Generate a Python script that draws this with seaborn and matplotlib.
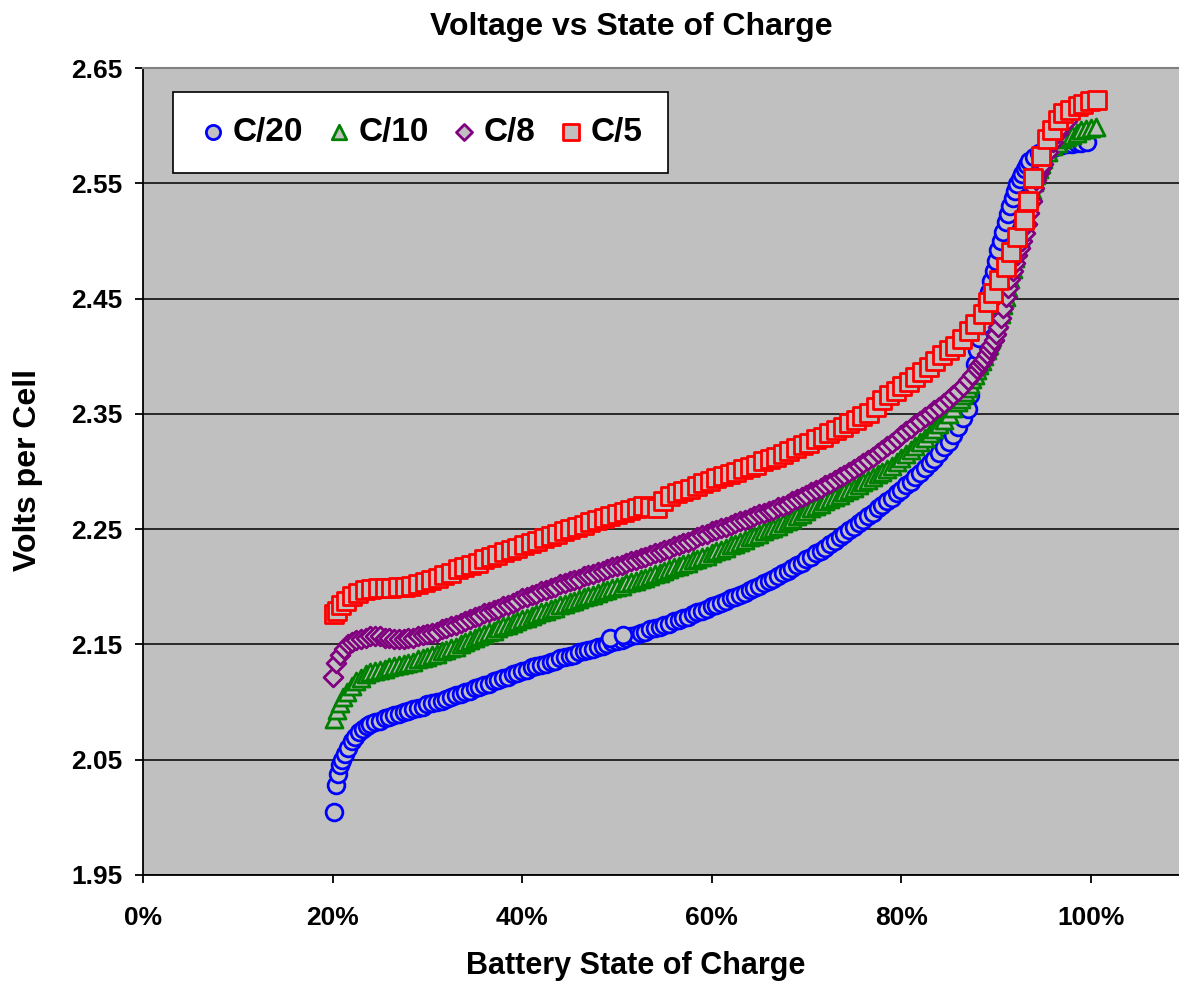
import matplotlib
matplotlib.use("Agg")
import matplotlib.pyplot as plt
from matplotlib.ticker import PercentFormatter, FormatStrFormatter
import numpy as np
import pandas as pd
import seaborn as sns

# ---- data (SOC in %, volts per cell) ----
# C/20 (blue circles)
c20_soc_head = [20.2, 20.4, 20.6, 20.8, 21.0, 21.3, 21.6, 22.0, 22.4, 22.8, 23.2, 23.6]
c20_v_head = [2.005, 2.028, 2.038, 2.045, 2.050, 2.055, 2.060, 2.066, 2.070, 2.074, 2.077, 2.079]
c20_body_start, c20_body_step = 24.0, 0.5
c20_v_body = [
    2.081, 2.083, 2.084, 2.086, 2.087, 2.089, 2.090, 2.091, 2.092, 2.094,
    2.095, 2.096, 2.098, 2.099, 2.100, 2.101, 2.103, 2.104, 2.106, 2.107,
    2.109, 2.110, 2.112, 2.113, 2.115, 2.116, 2.118, 2.119, 2.121, 2.122,
    2.124, 2.125, 2.127, 2.128, 2.130, 2.131, 2.132, 2.133, 2.135, 2.136,
    2.138, 2.139, 2.140, 2.141, 2.143, 2.144, 2.145, 2.146, 2.148, 2.149,
    2.150, 2.152, 2.153, 2.154, 2.156, 2.157, 2.158, 2.160, 2.161, 2.163,
    2.164, 2.165, 2.167, 2.168, 2.170, 2.171, 2.173, 2.174, 2.176, 2.178,
    2.179, 2.181, 2.183, 2.184, 2.186, 2.188, 2.190, 2.191, 2.193, 2.195,
    2.197, 2.199, 2.201, 2.203, 2.205, 2.207, 2.209, 2.212, 2.214, 2.216,
    2.219, 2.221, 2.224, 2.226, 2.229, 2.231, 2.234, 2.237, 2.240, 2.243,
    2.246, 2.249, 2.252, 2.255, 2.258, 2.261, 2.264, 2.268, 2.271, 2.274,
    2.277, 2.281, 2.284, 2.288, 2.291, 2.295, 2.299, 2.303, 2.307, 2.311,
    2.316, 2.321, 2.326, 2.332, 2.339, 2.346]
c20_knee_start, c20_knee_step = 87.0, 0.25
c20_v_knee = [
    2.354, 2.366, 2.380, 2.393, 2.405, 2.416, 2.427, 2.437, 2.447, 2.456,
    2.465, 2.474, 2.483, 2.492, 2.500, 2.508, 2.516, 2.523, 2.530, 2.537,
    2.543, 2.549, 2.554, 2.558, 2.562, 2.566, 2.569]
c20_soc_top = [94.0, 94.5, 95.0, 95.5, 96.0, 96.5, 97.0, 97.5, 98.0, 98.5, 99.0, 99.6,
               49.3, 50.6]
c20_v_top = [2.573, 2.576, 2.578, 2.580, 2.581, 2.582, 2.583, 2.584, 2.584, 2.585, 2.585, 2.586,
             2.156, 2.158]

# C/10 (green triangles)
c10_soc_head = [20.2, 20.5, 20.8, 21.1, 21.5, 22.0, 22.5, 23.0, 23.5]
c10_v_head = [2.085, 2.093, 2.099, 2.104, 2.109, 2.114, 2.118, 2.121, 2.124]
c10_body_start, c10_body_step = 24.0, 0.5
c10_v_body = [
    2.126, 2.127, 2.128, 2.129, 2.130, 2.131, 2.132, 2.133, 2.134, 2.135,
    2.137, 2.138, 2.139, 2.141, 2.142, 2.144, 2.145, 2.147, 2.148, 2.150,
    2.152, 2.154, 2.156, 2.157, 2.159, 2.161, 2.162, 2.164, 2.166, 2.167,
    2.169, 2.170, 2.172, 2.173, 2.175, 2.176, 2.178, 2.179, 2.181, 2.182,
    2.184, 2.185, 2.187, 2.188, 2.189, 2.191, 2.192, 2.193, 2.195, 2.196,
    2.197, 2.199, 2.200, 2.201, 2.203, 2.204, 2.205, 2.207, 2.208, 2.209,
    2.211, 2.212, 2.214, 2.215, 2.217, 2.218, 2.220, 2.221, 2.223, 2.224,
    2.226, 2.227, 2.229, 2.231, 2.232, 2.234, 2.236, 2.237, 2.239, 2.241,
    2.243, 2.244, 2.246, 2.248, 2.250, 2.251, 2.253, 2.255, 2.257, 2.259,
    2.261, 2.263, 2.266, 2.268, 2.270, 2.272, 2.274, 2.276, 2.278, 2.280,
    2.282, 2.284, 2.286, 2.288, 2.291, 2.293, 2.295, 2.298, 2.300, 2.302,
    2.305, 2.308, 2.312, 2.315, 2.319, 2.322, 2.326, 2.329, 2.333, 2.337,
    2.341, 2.345, 2.350, 2.355, 2.360]
c10_knee_start, c10_knee_step = 86.25, 0.25
c10_v_knee = [
    2.363, 2.366, 2.369, 2.372, 2.376, 2.380, 2.384, 2.388, 2.392, 2.396,
    2.400, 2.405, 2.410, 2.415, 2.420, 2.425, 2.431, 2.437, 2.444, 2.451,
    2.459, 2.467, 2.476, 2.485, 2.494, 2.503, 2.512, 2.521, 2.529, 2.537,
    2.544, 2.551, 2.557, 2.562, 2.567, 2.571]
c10_soc_top = [95.5, 96.0, 96.5, 97.0, 97.5, 98.0, 98.5, 99.0, 99.5, 100.0, 100.5]
c10_v_top = [2.577, 2.582, 2.585, 2.588, 2.590, 2.592, 2.594, 2.596, 2.597, 2.598, 2.599]

# C/8 (purple diamonds)
c8_soc_head = [20.0, 20.4, 20.8, 21.2, 21.6, 22.0, 22.5]
c8_v_head = [2.122, 2.134, 2.141, 2.146, 2.150, 2.152, 2.154]
c8_body_start, c8_body_step = 23.0, 0.5
c8_v_body = [
    2.155, 2.156, 2.157, 2.157, 2.157, 2.156, 2.156, 2.155, 2.155, 2.155,
    2.156, 2.156, 2.157, 2.158, 2.159, 2.160, 2.161, 2.163, 2.164, 2.166,
    2.167, 2.169, 2.170, 2.172, 2.174, 2.175, 2.177, 2.178, 2.180, 2.181,
    2.183, 2.184, 2.186, 2.188, 2.190, 2.191, 2.193, 2.194, 2.196, 2.197,
    2.199, 2.200, 2.202, 2.203, 2.205, 2.206, 2.207, 2.209, 2.210, 2.211,
    2.213, 2.214, 2.215, 2.217, 2.218, 2.219, 2.221, 2.222, 2.223, 2.225,
    2.226, 2.228, 2.229, 2.230, 2.232, 2.233, 2.235, 2.236, 2.238, 2.239,
    2.241, 2.243, 2.245, 2.246, 2.248, 2.249, 2.251, 2.252, 2.254, 2.255,
    2.257, 2.258, 2.260, 2.261, 2.263, 2.264, 2.266, 2.267, 2.269, 2.270,
    2.272, 2.274, 2.276, 2.278, 2.280, 2.282, 2.284, 2.286, 2.288, 2.290,
    2.293, 2.295, 2.297, 2.300, 2.302, 2.305, 2.307, 2.310, 2.313, 2.316,
    2.319, 2.322, 2.325, 2.328, 2.332, 2.335, 2.338, 2.341, 2.344, 2.347,
    2.350, 2.353, 2.356, 2.359, 2.363, 2.366, 2.370, 2.374, 2.379, 2.384,
    2.389]
c8_knee_start, c8_knee_step = 88.25, 0.25
c8_v_knee = [
    2.392, 2.395, 2.398, 2.402, 2.406, 2.410, 2.414, 2.419, 2.425, 2.433,
    2.442, 2.451, 2.459, 2.467, 2.474, 2.481, 2.488, 2.494, 2.500, 2.507,
    2.515, 2.524, 2.535, 2.546, 2.553, 2.559, 2.563, 2.567]
c8_soc_top = [95.5, 96.0, 96.5, 97.0, 97.5]
c8_v_top = [2.577, 2.586, 2.594, 2.600, 2.604]

# C/5 (red squares)
c5_soc_head = [20.1, 20.5, 20.9, 21.4, 22.1, 22.7, 23.4]
c5_v_head = [2.176, 2.179, 2.184, 2.188, 2.192, 2.195, 2.197]
c5_body_start, c5_body_step = 24.1, 0.7
c5_v_body = [
    2.198, 2.199, 2.199, 2.199, 2.200, 2.200, 2.201, 2.202, 2.204, 2.206,
    2.208, 2.210, 2.212, 2.215, 2.217, 2.219, 2.221, 2.224, 2.226, 2.228,
    2.230, 2.232, 2.234, 2.236, 2.238, 2.240, 2.242, 2.244, 2.246, 2.248,
    2.250, 2.252, 2.254, 2.256, 2.258, 2.260, 2.261, 2.263, 2.265, 2.267,
    2.268, 2.270, 2.269, 2.268, 2.274, 2.279, 2.281, 2.283, 2.285, 2.287,
    2.290, 2.292, 2.294, 2.296, 2.298, 2.300, 2.302, 2.304, 2.306, 2.309,
    2.311, 2.313, 2.315, 2.318, 2.320, 2.323, 2.325, 2.328, 2.330, 2.333,
    2.336, 2.339, 2.342, 2.345, 2.348, 2.351, 2.356, 2.362, 2.366, 2.370,
    2.374, 2.378, 2.382, 2.386, 2.391, 2.396, 2.401, 2.405, 2.409, 2.415]
c5_soc_top = [87.1, 87.8, 88.6, 89.1, 89.7, 90.3, 91.0, 91.6, 92.2, 92.9, 93.4,
              93.9, 94.7, 95.4, 95.9, 96.5, 97.1, 97.8, 98.6, 99.2, 99.9, 100.7]
c5_v_top = [2.422, 2.428, 2.437, 2.447, 2.455, 2.466, 2.477, 2.490, 2.503, 2.518, 2.535,
            2.555, 2.574, 2.588, 2.596, 2.605, 2.611, 2.614, 2.617, 2.619, 2.621, 2.622]


def build(name, soc_head, v_head, segments, soc_top, v_top):
    """Stack the pieces of one charge-rate series into a tidy frame"""
    soc = list(soc_head)
    volts = list(v_head)
    for start, step, vals in segments:
        soc += list(start + step * np.arange(len(vals)))   # evenly logged samples
        volts += list(vals)
    soc += list(soc_top)
    volts += list(v_top)
    return pd.DataFrame({"soc": soc, "volts": volts, "rate": name})


df = pd.concat([
    build("C/20", c20_soc_head, c20_v_head,
          [(c20_body_start, c20_body_step, c20_v_body), (c20_knee_start, c20_knee_step, c20_v_knee)],
          c20_soc_top, c20_v_top),
    build("C/10", c10_soc_head, c10_v_head,
          [(c10_body_start, c10_body_step, c10_v_body), (c10_knee_start, c10_knee_step, c10_v_knee)],
          c10_soc_top, c10_v_top),
    build("C/8", c8_soc_head, c8_v_head,
          [(c8_body_start, c8_body_step, c8_v_body), (c8_knee_start, c8_knee_step, c8_v_knee)],
          c8_soc_top, c8_v_top),
    build("C/5", c5_soc_head, c5_v_head,
          [(c5_body_start, c5_body_step, c5_v_body)],
          c5_soc_top, c5_v_top),
])

rates = ["C/20", "C/10", "C/8", "C/5"]
edge_colors = {"C/20": "#0000FF", "C/10": "#008000", "C/8": "#800080", "C/5": "#FF0000"}
marker_map = {"C/20": "o", "C/10": "^", "C/8": "D", "C/5": "s"}
marker_size = {"C/20": 145, "C/10": 150, "C/8": 92, "C/5": 165}

sns.set_theme(style="white")
plt.rcParams["font.family"] = ["Liberation Sans", "DejaVu Sans"]
plt.rcParams["font.weight"] = "bold"
plt.rcParams["text.color"] = "black"
plt.rcParams["xtick.color"] = "black"
plt.rcParams["ytick.color"] = "black"

fig = plt.figure(figsize=(11.79, 9.83), dpi=100)
ax = fig.add_axes([143 / 1179, 108 / 983, 1036 / 1179, 807 / 983])
bg = "#C0C0C0"
ax.set_facecolor(bg)

for rate in rates:
    sub = df[df["rate"] == rate]
    sns.scatterplot(data=sub, x="soc", y="volts", ax=ax, marker=marker_map[rate],
                    s=marker_size[rate], color=bg, edgecolor=edge_colors[rate],
                    linewidth=2.0, label=rate, zorder=3)

ax.set_xlim(0, 109.3)
ax.set_ylim(1.95, 2.65)
ax.set_xticks([0, 20, 40, 60, 80, 100])
ax.set_yticks(np.arange(1.95, 2.651, 0.1))
ax.xaxis.set_major_formatter(PercentFormatter(xmax=100, decimals=0))
ax.yaxis.set_major_formatter(FormatStrFormatter("%.2f"))
ax.yaxis.grid(True, color="black", linewidth=1.1)
ax.set_axisbelow(True)

ax.tick_params(axis="both", which="major", direction="out", length=6, width=1.3,
               color="black", labelcolor="black", labelsize=19)
ax.tick_params(axis="y", pad=9)
ax.tick_params(axis="x", pad=16)
ax.tick_params(left=True, bottom=True)
for lab in ax.get_xticklabels() + ax.get_yticklabels():
    lab.set_fontweight("bold")

for side in ["left", "bottom"]:
    ax.spines[side].set_color("black")
    ax.spines[side].set_linewidth(1.3)
ax.spines["top"].set_color("#808080")
ax.spines["top"].set_linewidth(1.5)
ax.spines["right"].set_visible(False)

ax.set_xlabel("")
ax.set_ylabel("")
fig.text(631 / 1179, 1 - 27 / 983, "Voltage vs State of Charge", ha="center", va="center",
         fontsize=23, fontweight="bold", color="black")
fig.text(636 / 1179, 1 - 966 / 983, "Battery State of Charge", ha="center", va="center",
         fontsize=22, fontweight="bold", color="black")
fig.text(28 / 1179, 1 - 470 / 983, "Volts per Cell", ha="center", va="center",
         rotation=90, fontsize=23, fontweight="bold", color="black")

leg = ax.legend(loc="upper left", bbox_to_anchor=(30 / 1036, 1 - 24 / 807), ncol=4,
                frameon=True, fancybox=False, edgecolor="black", facecolor="white",
                framealpha=1, fontsize=24, handletextpad=0.15, columnspacing=0.6,
                handlelength=0.9, borderpad=0.75, borderaxespad=0, markerscale=0.85)
leg.get_frame().set_linewidth(1.2)
for t in leg.get_texts():
    t.set_fontweight("bold")
    t.set_color("black")

fig.savefig("out.png", dpi=100)
